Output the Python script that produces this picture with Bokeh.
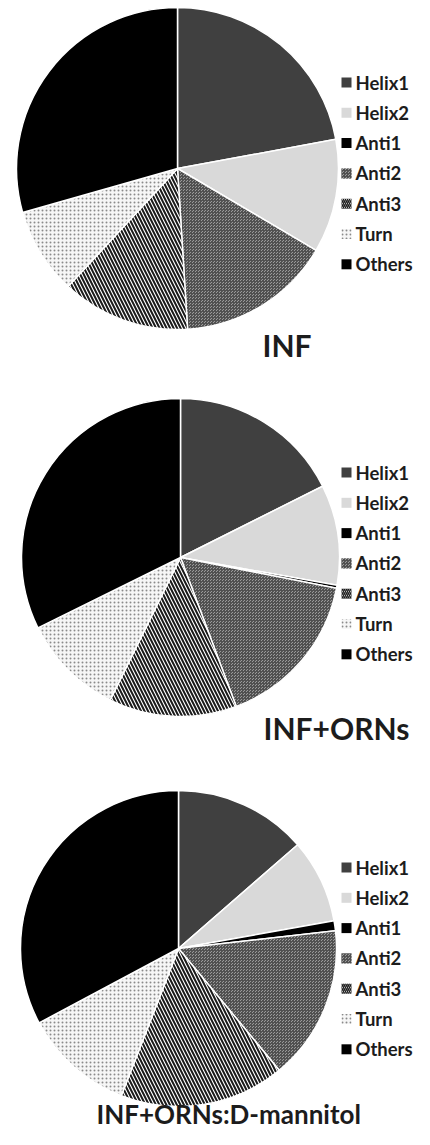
import math
from bokeh.plotting import figure
from bokeh.models import Range1d, ColumnDataSource
from bokeh.core.properties import value
from bokeh.embed import file_html
from bokeh.resources import INLINE

# ---------------- data ----------------
labels = ["Helix1", "Helix2", "Anti1", "Anti2", "Anti3", "Turn", "Others"]
inf_vals = [22.1, 11.4, 0.0, 15.5, 12.9, 8.7, 29.4]
inf_orns_vals = [17.6, 10.2, 0.3, 16.2, 13.0, 10.4, 32.3]
inf_orns_mannitol_vals = [13.6, 8.6, 1.0, 15.8, 16.9, 11.3, 32.8]
titles = ["INF", "INF+ORNs", "INF+ORNs:D-mannitol"]
series = [inf_vals, inf_orns_vals, inf_orns_mannitol_vals]

# ---------------- styles ----------------
fills = ["#404040", "#d9d9d9", "#000000", "#9a9a9a", "#ffffff", "#f6f6f6", "#000000"]
hatches = [" ", " ", " ", "criss_cross", "\\", "dot", " "]
hatch_colors = ["#000000", "#000000", "#000000", "#505050", "#1a1a1a", "#8a8a8a", "#000000"]
hatch_scales = [4, 4, 4, 3, 7, 4, 4]
hatch_weights = [1, 1, 1, 1, 2, 1, 1]

# layout (reference pixel coordinates)
H = 1145
W_FIG, H_FIG = 414, 1129
centers = [(177, 168), (180, 557), (178, 948)]
radii = [161, 159, 158]
legend_top = [82, 472, 867]
legend_step = 30.3
legend_marker_x = 346
legend_text_x = 355
title_pos = [(262, 344), (263, 727), (96, 1113)]
title_sizes = ["30px", "30px", "26px"]

p = figure(width=W_FIG, height=H_FIG, x_range=Range1d(0, W_FIG), y_range=Range1d(H - H_FIG, H),
           output_backend="svg", toolbar_location=None, min_border=0,
           x_axis_location=None, y_axis_location=None)
p.grid.visible = False
p.outline_line_color = None
p.background_fill_color = "white"

for k, vals in enumerate(series):
    cx, cy = centers[k]
    total = sum(vals)
    cum = [0.0]
    for v in vals:
        cum.append(cum[-1] + v / total)
    starts = [math.pi / 2 - 2 * math.pi * cum[i + 1] for i in range(len(vals))]
    ends = [math.pi / 2 - 2 * math.pi * cum[i] for i in range(len(vals))]
    keep = [i for i, v in enumerate(vals) if v > 0]
    src = ColumnDataSource(dict(
        x=[cx] * len(keep), y=[H - cy] * len(keep),
        start=[starts[i] for i in keep], end=[ends[i] for i in keep],
        fill=[fills[i] for i in keep], hatch=[hatches[i] for i in keep],
        hcol=[hatch_colors[i] for i in keep], hscale=[hatch_scales[i] for i in keep],
        hweight=[hatch_weights[i] for i in keep],
    ))
    p.wedge(x="x", y="y", radius=radii[k], radius_units="screen",
            start_angle="start", end_angle="end", direction="anticlock",
            fill_color="fill", hatch_pattern="hatch", hatch_color="hcol",
            hatch_scale="hscale", hatch_weight="hweight",
            line_color="white", line_width=1.5, source=src)

    # legend
    ys = [H - (legend_top[k] + i * legend_step) for i in range(len(labels))]
    lsrc = ColumnDataSource(dict(
        x=[legend_marker_x] * len(labels), y=ys, tx=[legend_text_x] * len(labels),
        text=labels,
        fill=fills, hatch=hatches, hcol=hatch_colors,
        hscale=[min(s, 4) for s in hatch_scales], hweight=[min(w, 1.5) for w in hatch_weights],
    ))
    p.rect(x="x", y="y", width=10, height=10, width_units="screen", height_units="screen",
           fill_color="fill", hatch_pattern="hatch", hatch_color="hcol",
           hatch_scale="hscale", hatch_weight="hweight", line_color=None, source=lsrc)
    p.text(x="tx", y="y", text="text", source=lsrc, text_font=value("Lato"),
           text_font_style="bold", text_font_size="18.5px", text_baseline="middle",
           text_align="left", text_color="#1c1c1c")

    # title
    tx, ty = title_pos[k]
    p.text(x=[tx], y=[H - ty], text=[titles[k]], text_font=value("Lato"),
           text_font_style="bold", text_font_size=title_sizes[k],
           text_baseline="middle", text_align="left", text_color="#1c1c1c")

open("out.html", "w").write(file_html(p, INLINE))
